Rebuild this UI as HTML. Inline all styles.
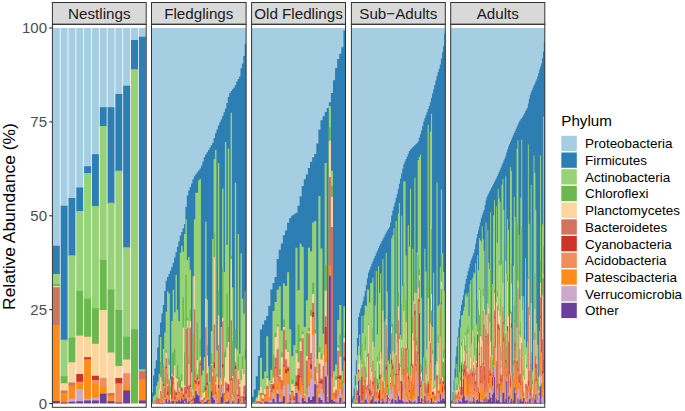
<!DOCTYPE html>
<html><head><meta charset="utf-8"><style>
html,body{margin:0;padding:0;background:#fff;width:685px;height:411px;overflow:hidden}
svg{display:block}
text{font-family:"Liberation Sans",sans-serif}
.st{font-size:15.2px;fill:#1A1A1A}
.tk{font-size:15.0px;fill:#4D4D4D}
.ax{font-size:17.4px;fill:#000}
.lt{font-size:15.2px;fill:#000}
.lg{font-size:13.45px;fill:#000}
</style></head><body>
<svg width="685" height="411" viewBox="0 0 685 411" >
<rect x="52.40" y="2.5" width="93.80" height="21.80" fill="#D9D9D9" stroke="#333333" stroke-width="1"/>
<text x="99.30" y="18.6" text-anchor="middle" class="st">Nestlings</text>
<path d="M52.79 28.00V246.82H59.83V28.00ZM60.61 28.00V206.64H67.64V28.00ZM68.42 28.00V199.12H75.46V28.00ZM76.24 28.00V188.61H83.28V28.00ZM84.06 28.00V167.20H91.09V28.00ZM91.87 28.00V155.18H98.91V28.00ZM99.69 28.00V108.24H106.73V28.00ZM107.51 28.00V108.24H114.54V28.00ZM115.32 28.00V95.10H122.36V28.00ZM123.14 28.00V86.83H130.18V28.00ZM130.96 28.00V41.02H137.99V28.00ZM138.77 28.00V37.64H145.81V28.00Z" fill="#A6CEE3"/>
<path d="M52.79 245.82V274.99H59.83V245.82ZM60.61 205.64V340.71H67.64V205.64ZM68.42 198.12V256.21H75.46V198.12ZM76.24 187.61V211.89H83.28V187.61ZM84.06 166.20V173.96H91.09V166.20ZM91.87 154.18V207.01H98.91V154.18ZM99.69 107.24V127.02H106.73V107.24ZM107.51 107.24V203.63H114.54V107.24ZM115.32 94.10V171.71H122.36V94.10ZM123.14 85.83V248.32H130.18V85.83ZM130.96 40.02V70.31H137.99V40.02ZM138.77 36.64V370.37H145.81V36.64Z" fill="#2D7FB3"/>
<path d="M52.79 273.99V285.13H59.83V273.99ZM60.61 339.71V377.13H67.64V339.71ZM68.42 255.21V338.83H75.46V255.21ZM76.24 210.89V291.88H83.28V210.89ZM84.06 172.96V299.77H91.09V172.96ZM91.87 206.01V309.16H98.91V206.01ZM99.69 126.02V261.09H106.73V126.02ZM107.51 202.63V290.38H114.54V202.63ZM115.32 170.71V311.04H122.36V170.71ZM123.14 247.32V337.70H130.18V247.32ZM130.96 69.31V330.19H137.99V69.31ZM138.77 369.37V372.25H145.81V369.37Z" fill="#98D277"/>
<path d="M52.79 284.13V287.00H59.83V284.13ZM60.61 376.13V384.27H67.64V376.13ZM68.42 337.83V363.24H75.46V337.83ZM76.24 290.88V336.58H83.28V290.88ZM84.06 298.77V337.70H91.09V298.77ZM91.87 308.16V344.84H98.91V308.16ZM99.69 260.09V311.04H106.73V260.09ZM107.51 289.38V353.48H114.54V289.38ZM115.32 310.04V367.00H122.36V310.04ZM123.14 336.70V360.61H130.18V336.70ZM130.96 329.19V403.55H137.99V329.19Z" fill="#6AB84E"/>
<path d="M52.79 286.00V288.13H59.83V286.00ZM60.61 383.27V391.41H67.64V383.27ZM68.42 362.24V383.52H75.46V362.24ZM76.24 335.58V374.88H83.28V335.58ZM84.06 336.70V358.36H91.09V336.70ZM91.87 343.84V376.76H98.91V343.84ZM99.69 310.04V379.01H106.73V310.04ZM107.51 352.48V394.03H114.54V352.48ZM115.32 366.00V379.01H122.36V366.00ZM123.14 359.61V374.13H130.18V359.61Z" fill="#FDD59F"/>
<path d="M52.79 287.13V326.06H59.83V287.13ZM60.61 390.41V393.66H67.64V390.41ZM68.42 382.52V386.52H75.46V382.52ZM107.51 393.03V396.66H114.54V393.03ZM138.77 371.25V380.14H145.81V371.25Z" fill="#D4715F"/>
<path d="M76.24 373.88V382.77H83.28V373.88ZM84.06 357.36V360.24H91.09V357.36ZM91.87 375.76V380.89H98.91V375.76ZM115.32 378.01V384.27H122.36V378.01Z" fill="#CB3426"/>
<path d="M76.24 381.77V384.27H83.28V381.77ZM84.06 359.24V361.74H91.09V359.24ZM91.87 379.89V385.02H98.91V379.89ZM99.69 378.01V387.65H106.73V378.01ZM115.32 383.27V403.42H122.36V383.27ZM123.14 373.13V386.52H130.18V373.13Z" fill="#F38D5C"/>
<path d="M52.79 325.06V401.92H59.83V325.06ZM60.61 392.66V403.42H67.64V392.66ZM68.42 385.52V399.67H75.46V385.52ZM76.24 383.27V389.90H83.28V383.27ZM84.06 360.74V399.67H91.09V360.74ZM91.87 384.02V398.54H98.91V384.02ZM99.69 386.65V394.79H106.73V386.65ZM107.51 395.66V402.30H114.54V395.66ZM123.14 385.52V391.41H130.18V385.52ZM138.77 379.14V401.55H145.81V379.14Z" fill="#FF8B1A"/>
<path d="M68.42 398.67V402.86H75.46V398.67ZM76.24 388.90V402.30H83.28V388.90ZM84.06 398.67V401.55H91.09V398.67ZM91.87 397.54V401.55H98.91V397.54Z" fill="#CBA9CC"/>
<path d="M52.79 400.92V403.55H59.83V400.92ZM60.61 402.42V403.55H67.64V402.42ZM68.42 401.86V403.55H75.46V401.86ZM76.24 401.30V403.55H83.28V401.30ZM84.06 400.55V403.55H91.09V400.55ZM91.87 400.55V403.55H98.91V400.55ZM99.69 393.79V403.55H106.73V393.79ZM107.51 401.30V403.55H114.54V401.30ZM115.32 402.42V403.55H122.36V402.42ZM123.14 390.41V403.55H130.18V390.41ZM138.77 400.55V403.55H145.81V400.55Z" fill="#6A3F9A"/>
<rect x="52.40" y="24.30" width="93.80" height="383.00" fill="none" stroke="#333333" stroke-width="1"/>
<rect x="151.50" y="2.5" width="94.60" height="21.80" fill="#D9D9D9" stroke="#333333" stroke-width="1"/>
<text x="198.80" y="18.6" text-anchor="middle" class="st">Fledglings</text>
<path d="M151.50 403.55V28.00H152.91V28.00H154.32V28.00H155.74V28.00H157.15V28.00H158.56V28.00H159.97V28.00H161.38V28.00H162.80V28.00H164.21V28.00H165.62V28.00H167.03V28.00H168.44V28.00H169.86V28.00H171.27V28.00H172.68V28.00H174.09V28.00H175.50V28.00H176.91V28.00H178.33V28.00H179.74V28.00H181.15V28.00H182.56V28.00H183.97V28.00H185.39V28.00H186.80V28.00H188.21V28.00H189.62V28.00H191.03V28.00H192.45V28.00H193.86V28.00H195.27V28.00H196.68V28.00H198.09V28.00H199.51V28.00H200.92V28.00H202.33V28.00H203.74V28.00H205.15V28.00H206.57V28.00H207.98V28.00H209.39V28.00H210.80V28.00H212.21V28.00H213.63V28.00H215.04V28.00H216.45V28.00H217.86V28.00H219.27V28.00H220.69V28.00H222.10V28.00H223.51V28.00H224.92V28.00H226.33V28.00H227.74V28.00H229.16V28.00H230.57V28.00H231.98V28.00H233.39V28.00H234.80V28.00H236.22V28.00H237.63V28.00H239.04V28.00H240.45V28.00H241.86V28.00H243.28V28.00H244.69V28.00H246.10V403.55Z" fill="#A6CEE3"/>
<path d="M151.50 403.55V392.50H152.91V375.51H154.32V368.62H155.74V360.28H157.15V347.40H158.56V334.79H159.97V322.42H161.38V313.43H162.80V304.89H164.21V290.69H165.62V280.73H167.03V276.98H168.44V274.11H169.86V270.54H171.27V266.74H172.68V262.68H174.09V257.62H175.50V252.35H176.91V246.87H178.33V241.23H179.74V235.59H181.15V232.00H182.56V228.18H183.97V223.88H185.39V206.81H186.80V195.48H188.21V190.56H189.62V187.11H191.03V183.46H192.45V179.17H193.86V176.16H195.27V174.24H196.68V172.32H198.09V170.45H199.51V168.58H200.92V165.81H202.33V161.54H203.74V157.26H205.15V154.59H206.57V152.26H207.98V149.93H209.39V147.59H210.80V145.24H212.21V142.70H213.63V137.98H215.04V133.28H216.45V129.44H217.86V125.59H219.27V122.27H220.69V119.50H222.10V116.01H223.51V112.22H224.92V108.43H226.33V102.93H227.74V97.02H229.16V93.16H230.57V91.04H231.98V89.33H233.39V87.70H234.80V84.97H236.22V81.44H237.63V78.91H239.04V76.53H240.45V68.28H241.86V63.40H243.28V56.09H244.69V43.95H246.10V403.55Z" fill="#2D7FB3"/>
<path d="M151.50 403.55V402.45H152.91V396.52H154.32V394.74H155.74V386.08H157.15V381.86H158.56V373.63H159.97V337.07H161.38V381.24H162.80V348.95H164.21V332.41H165.62V311.67H167.03V291.45H168.44V293.44H169.86V379.38H171.27V321.07H172.68V289.78H174.09V312.18H175.50V274.79H176.91V309.80H178.33V321.25H179.74V252.86H181.15V245.82H182.56V251.74H183.97V234.10H185.39V219.48H186.80V259.98H188.21V257.11H189.62V269.84H191.03V372.25H192.45V276.36H193.86V219.57H195.27V192.81H196.68V192.79H198.09V180.43H199.51V179.03H200.92V375.52H202.33V370.39H203.74V357.16H205.15V221.71H206.57V299.64H207.98V366.17H209.39V381.77H210.80V331.32H212.21V239.00H213.63V159.10H215.04V149.89H216.45V350.43H217.86V163.01H219.27V377.99H220.69V327.05H222.10V188.48H223.51V271.96H224.92V142.09H226.33V244.78H227.74V148.46H229.16V381.12H230.57V112.71H231.98V287.49H233.39V381.56H234.80V182.63H236.22V349.87H237.63V234.08H239.04V353.83H240.45V253.33H241.86V298.40H243.28V313.42H244.69V290.88H246.10V403.55Z" fill="#98D277"/>
<path d="M151.50 403.55V403.23H152.91V402.70H154.32V400.05H155.74V397.07H157.15V397.53H158.56V389.06H159.97V361.92H161.38V396.97H162.80V365.33H164.21V377.36H165.62V349.18H167.03V374.08H168.44V358.79H169.86V386.63H171.27V353.32H172.68V351.68H174.09V348.74H175.50V376.17H176.91V365.22H178.33V377.08H179.74V379.88H181.15V374.04H182.56V297.28H183.97V352.60H185.39V274.70H186.80V318.00H188.21V357.59H189.62V309.95H191.03V391.76H192.45V334.24H193.86V274.76H195.27V368.83H196.68V322.28H198.09V369.12H199.51V339.10H200.92V395.76H202.33V390.58H203.74V385.91H205.15V296.94H206.57V344.85H207.98V384.33H209.39V400.90H210.80V352.99H212.21V369.84H213.63V232.43H215.04V375.26H216.45V373.85H217.86V290.62H219.27V396.41H220.69V380.03H222.10V267.98H223.51V352.16H224.92V349.54H226.33V293.49H227.74V326.90H229.16V399.27H230.57V255.84H231.98V340.88H233.39V395.19H234.80V329.20H236.22V388.94H237.63V355.84H239.04V383.02H240.45V369.95H241.86V356.07H243.28V369.90H244.69V349.86H246.10V403.55Z" fill="#6AB84E"/>
<path d="M151.50 403.55V403.28H152.91V402.71H154.32V400.92H155.74V398.46H157.15V397.75H158.56V389.24H159.97V376.92H161.38V398.43H162.80V368.04H164.21V386.33H165.62V352.79H167.03V384.25H168.44V364.83H169.86V394.56H171.27V374.31H172.68V376.23H174.09V365.57H175.50V378.12H176.91V379.13H178.33V387.72H179.74V391.48H181.15V381.28H182.56V327.53H183.97V385.45H185.39V327.84H186.80V320.50H188.21V363.68H189.62V320.88H191.03V397.67H192.45V389.18H193.86V275.46H195.27V379.09H196.68V359.91H198.09V379.00H199.51V356.66H200.92V397.62H202.33V392.81H203.74V391.83H205.15V298.18H206.57V355.46H207.98V398.42H209.39V401.26H210.80V364.12H212.21V372.09H213.63V256.91H215.04V382.83H216.45V376.45H217.86V315.38H219.27V397.55H220.69V380.71H222.10V317.84H223.51V377.43H224.92V357.23H226.33V347.70H227.74V342.09H229.16V400.61H230.57V258.92H231.98V376.02H233.39V397.46H234.80V348.37H236.22V389.34H237.63V370.40H239.04V384.02H240.45V380.06H241.86V369.07H243.28V373.88H244.69V359.32H246.10V403.55Z" fill="#FDD59F"/>
<path d="M151.50 403.55V403.35H152.91V402.74H154.32V401.08H155.74V398.84H157.15V398.11H158.56V398.59H159.97V390.88H161.38V399.92H162.80V368.13H164.21V388.49H165.62V358.39H167.03V385.70H168.44V379.39H169.86V401.44H171.27V375.60H172.68V377.34H174.09V389.80H175.50V392.10H176.91V381.58H178.33V391.61H179.74V392.94H181.15V387.17H182.56V393.78H183.97V386.90H185.39V328.85H186.80V327.72H188.21V385.40H189.62V327.63H191.03V399.22H192.45V395.84H193.86V309.59H195.27V379.87H196.68V374.38H198.09V380.69H199.51V360.43H200.92V399.89H202.33V399.34H203.74V397.71H205.15V327.37H206.57V373.39H207.98V398.90H209.39V401.66H210.80V364.89H212.21V376.57H213.63V324.50H215.04V384.23H216.45V400.21H217.86V344.91H219.27V399.42H220.69V384.53H222.10V321.16H223.51V393.10H224.92V381.73H226.33V383.29H227.74V383.99H229.16V401.18H230.57V320.31H231.98V377.90H233.39V401.01H234.80V362.16H236.22V394.63H237.63V379.03H239.04V386.42H240.45V396.55H241.86V395.94H243.28V385.72H244.69V385.60H246.10V403.55Z" fill="#D4715F"/>
<path d="M151.50 403.55V403.39H152.91V402.83H154.32V401.11H155.74V402.86H157.15V401.95H158.56V399.96H159.97V393.95H161.38V402.70H162.80V384.34H164.21V396.71H165.62V366.76H167.03V391.75H168.44V395.88H169.86V401.80H171.27V376.41H172.68V382.92H174.09V396.95H175.50V393.14H176.91V390.33H178.33V391.89H179.74V393.12H181.15V388.55H182.56V394.84H183.97V398.93H185.39V391.04H186.80V387.26H188.21V396.08H189.62V385.18H191.03V400.54H192.45V398.74H193.86V380.25H195.27V381.27H196.68V377.72H198.09V381.53H199.51V363.78H200.92V401.98H202.33V400.29H203.74V398.16H205.15V387.24H206.57V382.49H207.98V399.93H209.39V402.65H210.80V384.03H212.21V393.30H213.63V362.27H215.04V392.22H216.45V400.82H217.86V384.95H219.27V401.62H220.69V391.20H222.10V364.33H223.51V393.96H224.92V393.44H226.33V388.32H227.74V384.71H229.16V401.48H230.57V378.62H231.98V392.75H233.39V402.38H234.80V366.11H236.22V395.51H237.63V394.85H239.04V402.18H240.45V397.74H241.86V397.22H243.28V392.21H244.69V396.85H246.10V403.55Z" fill="#CB3426"/>
<path d="M151.50 403.55V403.41H152.91V402.89H154.32V401.17H155.74V403.15H157.15V402.04H158.56V400.18H159.97V394.04H161.38V402.70H162.80V385.87H164.21V397.18H165.62V368.29H167.03V394.74H168.44V396.13H169.86V401.81H171.27V399.16H172.68V383.57H174.09V399.59H175.50V395.12H176.91V390.59H178.33V392.41H179.74V393.58H181.15V390.43H182.56V397.14H183.97V401.28H185.39V393.53H186.80V389.36H188.21V396.99H189.62V387.01H191.03V400.92H192.45V400.36H193.86V381.57H195.27V384.06H196.68V379.83H198.09V384.55H199.51V365.02H200.92V402.06H202.33V400.44H203.74V399.34H205.15V390.23H206.57V384.88H207.98V401.50H209.39V402.70H210.80V384.28H212.21V395.31H213.63V367.94H215.04V393.57H216.45V401.04H217.86V388.22H219.27V401.74H220.69V391.36H222.10V367.41H223.51V394.50H224.92V393.49H226.33V390.19H227.74V391.76H229.16V402.14H230.57V379.99H231.98V393.05H233.39V402.70H234.80V369.03H236.22V395.64H237.63V396.34H239.04V402.69H240.45V397.81H241.86V397.28H243.28V392.49H244.69V399.79H246.10V403.55Z" fill="#F38D5C"/>
<path d="M151.50 403.55V403.42H152.91V403.21H154.32V401.27H155.74V403.28H157.15V402.17H158.56V400.67H159.97V399.50H161.38V403.03H162.80V398.59H164.21V400.72H165.62V397.55H167.03V397.81H168.44V397.01H169.86V402.10H171.27V399.57H172.68V389.58H174.09V400.57H175.50V398.89H176.91V398.69H178.33V397.70H179.74V395.05H181.15V393.41H182.56V397.51H183.97V401.59H185.39V395.78H186.80V392.93H188.21V397.26H189.62V399.41H191.03V400.98H192.45V401.42H193.86V382.75H195.27V385.66H196.68V385.11H198.09V390.11H199.51V390.43H200.92V402.12H202.33V400.86H203.74V399.37H205.15V391.51H206.57V389.54H207.98V401.85H209.39V402.80H210.80V385.09H212.21V396.58H213.63V377.39H215.04V394.28H216.45V402.07H217.86V389.41H219.27V401.75H220.69V395.82H222.10V381.64H223.51V395.41H224.92V397.62H226.33V395.82H227.74V397.56H229.16V402.75H230.57V396.39H231.98V394.32H233.39V403.02H234.80V374.67H236.22V401.55H237.63V397.15H239.04V402.94H240.45V401.46H241.86V401.04H243.28V394.30H244.69V401.20H246.10V403.55Z" fill="#FF8B1A"/>
<path d="M151.50 403.55V403.48H152.91V403.43H154.32V401.77H155.74V403.31H157.15V403.42H158.56V402.48H159.97V401.93H161.38V403.16H162.80V400.11H164.21V402.81H165.62V398.27H167.03V399.71H168.44V398.78H169.86V403.13H171.27V400.62H172.68V399.44H174.09V402.16H175.50V401.51H176.91V401.09H178.33V399.28H179.74V399.42H181.15V397.88H182.56V399.94H183.97V401.79H185.39V398.20H186.80V396.87H188.21V400.04H189.62V403.04H191.03V402.32H192.45V402.76H193.86V396.76H195.27V389.10H196.68V386.44H198.09V394.47H199.51V395.79H200.92V403.21H202.33V403.10H203.74V400.46H205.15V399.42H206.57V399.41H207.98V403.02H209.39V403.05H210.80V391.23H212.21V397.39H213.63V395.50H215.04V399.00H216.45V402.73H217.86V402.50H219.27V402.67H220.69V396.81H222.10V385.65H223.51V402.42H224.92V401.45H226.33V398.99H227.74V400.34H229.16V403.12H230.57V400.80H231.98V394.98H233.39V403.19H234.80V401.68H236.22V402.55H237.63V398.07H239.04V402.96H240.45V402.85H241.86V401.53H243.28V395.97H244.69V402.82H246.10V403.55Z" fill="#CBA9CC"/>
<path d="M151.50 403.55V403.48H152.91V403.50H154.32V403.44H155.74V403.34H157.15V403.45H158.56V402.53H159.97V403.09H161.38V403.35H162.80V402.94H164.21V403.43H165.62V398.90H167.03V402.46H168.44V399.53H169.86V403.16H171.27V401.22H172.68V400.64H174.09V403.50H175.50V401.62H176.91V401.81H178.33V399.75H179.74V401.40H181.15V398.30H182.56V400.14H183.97V403.01H185.39V398.22H186.80V402.69H188.21V400.68H189.62V403.42H191.03V403.15H192.45V403.12H193.86V397.83H195.27V390.70H196.68V394.66H198.09V395.41H199.51V401.48H200.92V403.30H202.33V403.25H203.74V402.04H205.15V402.05H206.57V400.18H207.98V403.09H209.39V403.42H210.80V391.35H212.21V397.39H213.63V399.74H215.04V403.49H216.45V403.31H217.86V402.73H219.27V403.07H220.69V396.93H222.10V393.47H223.51V403.46H224.92V401.95H226.33V401.88H227.74V400.53H229.16V403.17H230.57V403.37H231.98V401.23H233.39V403.46H234.80V403.34H236.22V402.81H237.63V398.52H239.04V403.25H240.45V402.98H241.86V402.97H243.28V396.38H244.69V403.09H246.10V403.55Z" fill="#6A3F9A"/>
<rect x="151.50" y="24.30" width="94.60" height="383.00" fill="none" stroke="#333333" stroke-width="1"/>
<rect x="251.60" y="2.5" width="93.90" height="21.80" fill="#D9D9D9" stroke="#333333" stroke-width="1"/>
<text x="298.55" y="18.6" text-anchor="middle" class="st">Old Fledlings</text>
<path d="M251.60 403.55V28.00H253.69V28.00H255.77V28.00H257.86V28.00H259.95V28.00H262.03V28.00H264.12V28.00H266.21V28.00H268.29V28.00H270.38V28.00H272.47V28.00H274.55V28.00H276.64V28.00H278.73V28.00H280.81V28.00H282.90V28.00H284.99V28.00H287.07V28.00H289.16V28.00H291.25V28.00H293.33V28.00H295.42V28.00H297.51V28.00H299.59V28.00H301.68V28.00H303.77V28.00H305.85V28.00H307.94V28.00H310.03V28.00H312.11V28.00H314.20V28.00H316.29V28.00H318.37V28.00H320.46V28.00H322.55V28.00H324.63V28.00H326.72V28.00H328.81V28.00H330.89V28.00H332.98V28.00H335.07V28.00H337.15V28.00H339.24V28.00H341.33V28.00H343.41V28.00H345.50V403.55Z" fill="#A6CEE3"/>
<path d="M251.60 403.55V396.79H253.69V389.53H255.77V376.36H257.86V355.89H259.95V329.43H262.03V324.41H264.12V320.24H266.21V315.98H268.29V305.80H270.38V289.40H272.47V283.09H274.55V276.94H276.64V259.05H278.73V249.73H280.81V243.55H282.90V235.13H284.99V230.56H287.07V222.80H289.16V217.91H291.25V215.38H293.33V214.36H295.42V212.80H297.51V205.71H299.59V196.32H301.68V185.95H303.77V179.29H305.85V174.48H307.94V168.09H310.03V161.73H312.11V157.17H314.20V153.88H316.29V143.38H318.37V129.76H320.46V120.17H322.55V116.27H324.63V112.05H326.72V107.94H328.81V102.27H330.89V92.94H332.98V80.28H335.07V68.09H337.15V59.06H339.24V53.63H341.33V47.29H343.41V30.47H345.50V403.55Z" fill="#2D7FB3"/>
<path d="M251.60 403.55V402.87H253.69V402.15H255.77V397.24H257.86V390.23H259.95V357.64H262.03V378.73H264.12V371.43H266.21V336.30H268.29V380.31H270.38V369.72H272.47V310.95H274.55V301.96H276.64V289.85H278.73V286.34H280.81V330.46H282.90V283.48H284.99V286.06H287.07V272.33H289.16V329.28H291.25V356.11H293.33V345.19H295.42V247.78H297.51V290.23H299.59V243.86H301.68V246.96H303.77V326.96H305.85V300.15H307.94V247.71H310.03V251.57H312.11V222.41H314.20V221.05H316.29V358.77H318.37V196.09H320.46V248.58H322.55V333.79H324.63V162.99H326.72V375.62H328.81V106.02H330.89V170.71H332.98V371.22H335.07V364.55H337.15V319.90H339.24V305.00H341.33V370.98H343.41V306.25H345.50V403.55Z" fill="#98D277"/>
<path d="M251.60 403.55V403.08H253.69V402.67H255.77V399.14H257.86V394.39H259.95V386.33H262.03V393.25H264.12V387.95H266.21V375.71H268.29V388.82H270.38V381.30H272.47V354.87H274.55V332.44H276.64V323.96H278.73V369.02H280.81V352.39H282.90V319.50H284.99V340.01H287.07V350.44H289.16V391.84H291.25V379.46H293.33V385.59H295.42V350.05H297.51V324.23H299.59V338.35H301.68V331.62H303.77V392.83H305.85V333.31H307.94V328.09H310.03V310.01H312.11V282.69H314.20V329.39H316.29V372.21H318.37V347.37H320.46V353.86H322.55V354.72H324.63V264.45H326.72V394.18H328.81V127.15H330.89V185.73H332.98V386.61H335.07V376.25H337.15V344.99H339.24V334.57H341.33V380.75H343.41V335.44H345.50V403.55Z" fill="#6AB84E"/>
<path d="M251.60 403.55V403.33H253.69V402.69H255.77V399.21H257.86V395.09H259.95V386.45H262.03V395.04H264.12V388.50H266.21V377.98H268.29V388.83H270.38V383.01H272.47V377.58H274.55V337.08H276.64V326.46H278.73V374.94H280.81V357.02H282.90V326.88H284.99V349.43H287.07V351.69H289.16V392.30H291.25V383.83H293.33V385.91H295.42V353.34H297.51V362.29H299.59V341.45H301.68V334.22H303.77V393.62H305.85V356.17H307.94V331.46H310.03V316.01H312.11V294.12H314.20V333.58H316.29V372.63H318.37V352.23H320.46V359.46H322.55V354.80H324.63V290.42H326.72V394.41H328.81V140.67H330.89V197.00H332.98V386.83H335.07V379.84H337.15V347.57H339.24V356.69H341.33V386.56H343.41V337.82H345.50V403.55Z" fill="#FDD59F"/>
<path d="M251.60 403.55V403.34H253.69V402.80H255.77V400.64H257.86V401.06H259.95V393.02H262.03V398.46H264.12V394.31H266.21V385.65H268.29V397.69H270.38V384.00H272.47V383.66H274.55V357.49H276.64V349.13H278.73V376.39H280.81V380.01H282.90V329.82H284.99V359.17H287.07V366.47H289.16V394.26H291.25V390.77H293.33V396.04H295.42V375.49H297.51V368.42H299.59V350.88H301.68V338.34H303.77V395.51H305.85V360.58H307.94V333.28H310.03V353.04H312.11V302.98H314.20V366.91H316.29V385.34H318.37V363.38H320.46V378.60H322.55V365.85H324.63V316.29H326.72V396.81H328.81V177.09H330.89V227.04H332.98V392.73H335.07V389.64H337.15V350.87H339.24V375.07H341.33V386.80H343.41V342.45H345.50V403.55Z" fill="#D4715F"/>
<path d="M251.60 403.55V403.37H253.69V403.03H255.77V402.71H257.86V401.89H259.95V394.16H262.03V401.02H264.12V395.45H266.21V387.76H268.29V398.37H270.38V390.79H272.47V385.35H274.55V367.61H276.64V376.11H278.73V381.18H280.81V388.12H282.90V365.37H284.99V369.61H287.07V368.49H289.16V399.15H291.25V391.00H293.33V398.23H295.42V381.78H297.51V374.96H299.59V376.38H301.68V384.61H303.77V395.89H305.85V387.35H307.94V358.22H310.03V364.17H312.11V312.28H314.20V379.53H316.29V387.14H318.37V381.79H320.46V380.26H322.55V391.64H324.63V326.93H326.72V397.39H328.81V266.10H330.89V377.26H332.98V395.05H335.07V397.81H337.15V376.69H339.24V375.78H341.33V393.75H343.41V357.35H345.50V403.55Z" fill="#CB3426"/>
<path d="M251.60 403.55V403.37H253.69V403.06H255.77V402.78H257.86V402.60H259.95V394.20H262.03V401.03H264.12V395.86H266.21V388.18H268.29V398.44H270.38V391.59H272.47V389.05H274.55V368.37H276.64V376.50H278.73V381.30H280.81V388.56H282.90V366.59H284.99V373.36H287.07V371.23H289.16V400.43H291.25V391.78H293.33V400.07H295.42V385.89H297.51V390.44H299.59V377.33H301.68V384.77H303.77V395.98H305.85V387.56H307.94V359.20H310.03V368.76H312.11V317.00H314.20V380.26H316.29V387.49H318.37V382.86H320.46V383.56H322.55V392.59H324.63V344.16H326.72V397.53H328.81V266.10H330.89V377.26H332.98V395.27H335.07V397.96H337.15V378.49H339.24V379.36H341.33V393.77H343.41V360.68H345.50V403.55Z" fill="#F38D5C"/>
<path d="M251.60 403.55V403.38H253.69V403.14H255.77V403.10H257.86V403.17H259.95V399.06H262.03V402.53H264.12V396.67H266.21V392.60H268.29V401.22H270.38V398.99H272.47V393.21H274.55V384.49H276.64V379.75H278.73V393.37H280.81V398.32H282.90V367.97H284.99V400.76H287.07V371.30H289.16V401.32H291.25V398.49H293.33V401.23H295.42V386.68H297.51V401.13H299.59V380.67H301.68V393.03H303.77V397.22H305.85V391.84H307.94V371.78H310.03V372.74H312.11V330.33H314.20V382.92H316.29V391.03H318.37V389.19H320.46V389.05H322.55V395.27H324.63V347.08H326.72V399.64H328.81V266.10H330.89V388.53H332.98V396.63H335.07V401.28H337.15V387.24H339.24V380.45H341.33V399.68H343.41V382.14H345.50V403.55Z" fill="#FF8B1A"/>
<path d="M251.60 403.55V403.48H253.69V403.40H255.77V403.21H257.86V403.25H259.95V400.76H262.03V402.81H264.12V401.67H266.21V401.49H268.29V401.23H270.38V400.04H272.47V393.33H274.55V397.62H276.64V389.92H278.73V397.98H280.81V400.73H282.90V385.89H284.99V402.58H287.07V384.32H289.16V401.55H291.25V400.53H293.33V401.38H295.42V389.03H297.51V401.82H299.59V393.41H301.68V398.11H303.77V400.44H305.85V394.91H307.94V386.56H310.03V378.95H312.11V335.29H314.20V383.45H316.29V402.03H318.37V393.83H320.46V389.37H322.55V396.59H324.63V362.01H326.72V400.63H328.81V275.86H330.89V399.79H332.98V400.22H335.07V402.31H337.15V396.49H339.24V388.92H341.33V401.74H343.41V383.08H345.50V403.55Z" fill="#CBA9CC"/>
<path d="M251.60 403.55V403.55H253.69V403.51H255.77V403.42H257.86V403.38H259.95V402.34H262.03V403.52H264.12V401.73H266.21V401.68H268.29V402.42H270.38V402.47H272.47V398.70H274.55V402.61H276.64V393.86H278.73V402.09H280.81V401.54H282.90V396.26H284.99V403.38H287.07V402.86H289.16V401.82H291.25V403.31H293.33V402.49H295.42V392.89H297.51V402.36H299.59V403.20H301.68V398.12H303.77V400.96H305.85V402.46H307.94V397.18H310.03V399.95H312.11V396.57H314.20V384.27H316.29V402.51H318.37V397.44H320.46V400.11H322.55V402.78H324.63V376.57H326.72V401.69H328.81V275.86H330.89V399.79H332.98V401.35H335.07V402.58H337.15V402.73H339.24V397.73H341.33V402.79H343.41V401.83H345.50V403.55Z" fill="#6A3F9A"/>
<rect x="251.60" y="24.30" width="93.90" height="383.00" fill="none" stroke="#333333" stroke-width="1"/>
<rect x="351.40" y="2.5" width="93.90" height="21.80" fill="#D9D9D9" stroke="#333333" stroke-width="1"/>
<text x="398.35" y="18.6" text-anchor="middle" class="st">Sub−Adults</text>
<path d="M351.40 403.55V28.00H352.50V28.00H353.61V28.00H354.71V28.00H355.82V28.00H356.92V28.00H358.03V28.00H359.13V28.00H360.24V28.00H361.34V28.00H362.45V28.00H363.55V28.00H364.66V28.00H365.76V28.00H366.87V28.00H367.97V28.00H369.08V28.00H370.18V28.00H371.28V28.00H372.39V28.00H373.49V28.00H374.60V28.00H375.70V28.00H376.81V28.00H377.91V28.00H379.02V28.00H380.12V28.00H381.23V28.00H382.33V28.00H383.44V28.00H384.54V28.00H385.65V28.00H386.75V28.00H387.86V28.00H388.96V28.00H390.06V28.00H391.17V28.00H392.27V28.00H393.38V28.00H394.48V28.00H395.59V28.00H396.69V28.00H397.80V28.00H398.90V28.00H400.01V28.00H401.11V28.00H402.22V28.00H403.32V28.00H404.43V28.00H405.53V28.00H406.64V28.00H407.74V28.00H408.84V28.00H409.95V28.00H411.05V28.00H412.16V28.00H413.26V28.00H414.37V28.00H415.47V28.00H416.58V28.00H417.68V28.00H418.79V28.00H419.89V28.00H421.00V28.00H422.10V28.00H423.21V28.00H424.31V28.00H425.42V28.00H426.52V28.00H427.62V28.00H428.73V28.00H429.83V28.00H430.94V28.00H432.04V28.00H433.15V28.00H434.25V28.00H435.36V28.00H436.46V28.00H437.57V28.00H438.67V28.00H439.78V28.00H440.88V28.00H441.99V28.00H443.09V28.00H444.20V28.00H445.30V403.55Z" fill="#A6CEE3"/>
<path d="M351.40 403.55V398.92H352.50V396.29H353.61V388.44H354.71V375.54H355.82V360.31H356.92V337.94H358.03V316.89H359.13V312.66H360.24V308.42H361.34V304.90H362.45V301.45H363.55V296.62H364.66V291.01H365.76V284.88H366.87V278.16H367.97V272.55H369.08V269.66H370.18V266.76H371.28V263.87H372.39V261.21H373.49V258.57H374.60V255.93H375.70V253.36H376.81V250.83H377.91V248.29H379.02V245.85H380.12V243.61H381.23V241.37H382.33V239.13H383.44V236.95H384.54V234.77H385.65V232.60H386.75V230.66H387.86V228.82H388.96V226.98H390.06V222.42H391.17V215.44H392.27V210.40H393.38V206.49H394.48V202.55H395.59V198.09H396.69V193.63H397.80V188.67H398.90V183.63H400.01V178.59H401.11V173.48H402.22V168.38H403.32V164.14H404.43V161.60H405.53V159.07H406.64V156.53H407.74V153.72H408.84V150.92H409.95V149.52H411.05V148.45H412.16V147.37H413.26V146.27H414.37V145.15H415.47V144.02H416.58V142.89H417.68V141.46H418.79V137.81H419.89V134.17H421.00V130.53H422.10V126.25H423.21V121.79H424.31V118.22H425.42V115.25H426.52V112.28H427.62V109.12H428.73V105.88H429.83V102.55H430.94V98.04H432.04V93.53H433.15V89.22H434.25V84.93H435.36V80.53H436.46V76.07H437.57V72.12H438.67V68.76H439.78V64.59H440.88V58.52H441.99V52.33H443.09V46.03H444.20V33.47H445.30V403.55Z" fill="#2D7FB3"/>
<path d="M351.40 403.55V403.09H352.50V402.82H353.61V398.96H354.71V385.70H355.82V374.19H356.92V355.37H358.03V345.97H359.13V334.50H360.24V359.92H361.34V316.09H362.45V332.99H363.55V315.13H364.66V305.52H365.76V305.97H366.87V289.39H367.97V289.65H369.08V302.70H370.18V283.36H371.28V282.81H372.39V277.58H373.49V346.87H374.60V305.59H375.70V271.01H376.81V334.39H377.91V266.27H379.02V292.73H380.12V273.23H381.23V358.40H382.33V259.20H383.44V321.74H384.54V377.01H385.65V252.65H386.75V291.50H387.86V360.23H388.96V363.75H390.06V353.69H391.17V238.16H392.27V235.62H393.38V228.29H394.48V352.94H395.59V220.96H396.69V342.97H397.80V213.41H398.90V203.07H400.01V334.76H401.11V215.79H402.22V285.69H403.32V181.43H404.43V181.30H405.53V255.60H406.64V349.54H407.74V225.05H408.84V246.64H409.95V188.86H411.05V366.11H412.16V248.86H413.26V301.06H414.37V177.81H415.47V292.90H416.58V252.40H417.68V160.02H418.79V156.91H419.89V154.49H421.00V297.79H422.10V380.96H423.21V357.18H424.31V248.67H425.42V271.58H426.52V349.21H427.62V124.68H428.73V341.17H429.83V131.80H430.94V113.76H432.04V326.97H433.15V272.82H434.25V380.60H435.36V364.61H436.46V182.46H437.57V306.26H438.67V304.58H439.78V266.72H440.88V189.44H441.99V253.33H443.09V272.11H444.20V290.88H445.30V403.55Z" fill="#98D277"/>
<path d="M351.40 403.55V403.31H352.50V403.10H353.61V401.52H354.71V399.15H355.82V387.71H356.92V383.52H358.03V363.25H359.13V355.21H360.24V395.09H361.34V344.04H362.45V382.29H363.55V360.94H364.66V336.60H365.76V373.57H366.87V353.82H367.97V323.82H369.08V383.98H370.18V366.14H371.28V369.21H372.39V328.46H373.49V377.37H374.60V370.66H375.70V378.05H376.81V356.63H377.91V382.83H379.02V351.63H380.12V350.60H381.23V371.94H382.33V302.51H383.44V370.39H384.54V392.36H385.65V317.42H386.75V347.35H387.86V387.68H388.96V396.20H390.06V373.88H391.17V323.80H392.27V323.65H393.38V369.48H394.48V384.62H395.59V315.46H396.69V383.03H397.80V292.47H398.90V333.16H400.01V365.39H401.11V303.87H402.22V368.64H403.32V282.14H404.43V368.56H405.53V299.99H406.64V367.31H407.74V349.47H408.84V378.74H409.95V363.87H411.05V381.24H412.16V317.27H413.26V337.15H414.37V277.18H415.47V337.21H416.58V340.73H417.68V255.19H418.79V269.52H419.89V363.39H421.00V365.40H422.10V397.39H423.21V397.36H424.31V357.34H425.42V360.54H426.52V386.62H427.62V281.36H428.73V385.31H429.83V298.49H430.94V228.78H432.04V349.95H433.15V387.06H434.25V387.48H435.36V385.07H436.46V360.36H437.57V335.45H438.67V374.51H439.78V307.77H440.88V254.05H441.99V360.65H443.09V349.41H444.20V375.54H445.30V403.55Z" fill="#6AB84E"/>
<path d="M351.40 403.55V403.33H352.50V403.20H353.61V402.87H354.71V400.25H355.82V389.72H356.92V384.51H358.03V363.76H359.13V355.47H360.24V396.86H361.34V364.27H362.45V385.13H363.55V381.98H364.66V350.51H365.76V377.20H366.87V357.04H367.97V325.06H369.08V387.01H370.18V366.93H371.28V371.78H372.39V341.63H373.49V390.02H374.60V375.31H375.70V384.65H376.81V361.33H377.91V389.20H379.02V361.33H380.12V351.53H381.23V377.39H382.33V310.38H383.44V381.22H384.54V393.54H385.65V318.89H386.75V363.15H387.86V395.44H388.96V397.09H390.06V376.92H391.17V326.69H392.27V351.21H393.38V376.06H394.48V392.89H395.59V333.62H396.69V383.06H397.80V306.24H398.90V339.09H400.01V366.86H401.11V339.71H402.22V374.57H403.32V310.78H404.43V375.26H405.53V321.97H406.64V373.47H407.74V372.81H408.84V389.31H409.95V376.14H411.05V381.76H412.16V333.30H413.26V341.09H414.37V292.68H415.47V344.94H416.58V362.07H417.68V287.79H418.79V275.21H419.89V375.30H421.00V372.13H422.10V398.74H423.21V397.48H424.31V366.03H425.42V373.88H426.52V387.52H427.62V298.10H428.73V390.05H429.83V323.42H430.94V293.91H432.04V354.33H433.15V389.26H434.25V387.91H435.36V386.28H436.46V361.13H437.57V342.94H438.67V384.51H439.78V336.57H440.88V281.69H441.99V376.93H443.09V358.04H444.20V383.74H445.30V403.55Z" fill="#FDD59F"/>
<path d="M351.40 403.55V403.45H352.50V403.36H353.61V403.14H354.71V401.20H355.82V389.84H356.92V390.14H358.03V369.32H359.13V379.43H360.24V400.44H361.34V367.32H362.45V385.49H363.55V384.82H364.66V366.65H365.76V386.39H366.87V385.10H367.97V353.25H369.08V388.00H370.18V379.57H371.28V390.39H372.39V360.55H373.49V391.63H374.60V375.33H375.70V391.87H376.81V378.76H377.91V392.57H379.02V363.69H380.12V374.79H381.23V399.07H382.33V381.51H383.44V387.96H384.54V397.48H385.65V325.62H386.75V363.74H387.86V397.17H388.96V398.39H390.06V382.98H391.17V333.37H392.27V363.75H393.38V384.47H394.48V397.56H395.59V355.13H396.69V390.73H397.80V320.45H398.90V363.28H400.01V381.31H401.11V347.87H402.22V384.56H403.32V347.84H404.43V381.77H405.53V348.26H406.64V395.33H407.74V373.13H408.84V389.86H409.95V377.20H411.05V381.83H412.16V363.38H413.26V384.44H414.37V304.05H415.47V351.22H416.58V384.13H417.68V298.67H418.79V280.46H419.89V376.31H421.00V380.88H422.10V398.75H423.21V399.25H424.31V366.30H425.42V384.44H426.52V388.35H427.62V381.11H428.73V394.55H429.83V343.20H430.94V310.76H432.04V391.99H433.15V391.33H434.25V395.65H435.36V395.49H436.46V374.71H437.57V391.08H438.67V389.90H439.78V378.76H440.88V288.67H441.99V380.96H443.09V362.23H444.20V384.27H445.30V403.55Z" fill="#D4715F"/>
<path d="M351.40 403.55V403.46H352.50V403.40H353.61V403.18H354.71V402.84H355.82V399.19H356.92V392.96H358.03V370.03H359.13V380.42H360.24V401.03H361.34V376.74H362.45V392.19H363.55V400.81H364.66V380.43H365.76V389.98H366.87V388.05H367.97V389.57H369.08V390.46H370.18V394.15H371.28V393.12H372.39V381.45H373.49V399.79H374.60V377.87H375.70V393.87H376.81V385.01H377.91V395.62H379.02V375.11H380.12V377.80H381.23V399.40H382.33V381.53H383.44V393.47H384.54V397.97H385.65V366.70H386.75V384.68H387.86V398.35H388.96V399.50H390.06V383.30H391.17V359.87H392.27V365.38H393.38V384.88H394.48V397.74H395.59V373.24H396.69V394.68H397.80V373.74H398.90V368.91H400.01V381.99H401.11V355.03H402.22V389.06H403.32V368.94H404.43V387.36H405.53V348.81H406.64V396.81H407.74V375.66H408.84V390.10H409.95V377.38H411.05V398.19H412.16V365.79H413.26V394.20H414.37V310.72H415.47V364.82H416.58V385.45H417.68V352.20H418.79V300.07H419.89V385.32H421.00V385.30H422.10V400.54H423.21V400.43H424.31V383.02H425.42V392.15H426.52V395.29H427.62V383.62H428.73V394.70H429.83V362.00H430.94V323.99H432.04V392.09H433.15V393.00H434.25V400.12H435.36V396.51H436.46V375.67H437.57V391.42H438.67V392.78H439.78V383.33H440.88V302.60H441.99V386.82H443.09V381.84H444.20V386.26H445.30V403.55Z" fill="#CB3426"/>
<path d="M351.40 403.55V403.46H352.50V403.40H353.61V403.29H354.71V402.86H355.82V399.41H356.92V394.92H358.03V371.93H359.13V380.77H360.24V401.15H361.34V400.19H362.45V393.51H363.55V401.43H364.66V381.42H365.76V390.29H366.87V388.10H367.97V390.23H369.08V394.39H370.18V395.69H371.28V393.73H372.39V384.61H373.49V399.90H374.60V378.13H375.70V394.52H376.81V388.67H377.91V398.26H379.02V379.15H380.12V377.82H381.23V400.41H382.33V381.76H383.44V394.08H384.54V398.12H385.65V369.56H386.75V386.75H387.86V398.63H388.96V400.25H390.06V383.59H391.17V363.68H392.27V369.27H393.38V385.57H394.48V398.19H395.59V375.20H396.69V395.37H397.80V374.92H398.90V370.33H400.01V382.74H401.11V355.53H402.22V390.39H403.32V369.62H404.43V388.49H405.53V350.01H406.64V396.87H407.74V379.45H408.84V392.34H409.95V377.52H411.05V398.42H412.16V367.44H413.26V394.96H414.37V315.01H415.47V365.93H416.58V386.41H417.68V353.90H418.79V301.48H419.89V386.98H421.00V385.59H422.10V400.59H423.21V400.69H424.31V383.26H425.42V392.44H426.52V395.47H427.62V392.80H428.73V395.72H429.83V362.59H430.94V324.82H432.04V395.07H433.15V394.33H434.25V400.35H435.36V396.62H436.46V378.28H437.57V392.52H438.67V393.34H439.78V383.74H440.88V304.56H441.99V392.26H443.09V384.03H444.20V389.36H445.30V403.55Z" fill="#F38D5C"/>
<path d="M351.40 403.55V403.52H352.50V403.51H353.61V403.44H354.71V403.20H355.82V400.24H356.92V396.01H358.03V377.46H359.13V384.19H360.24V401.34H361.34V401.35H362.45V399.41H363.55V401.80H364.66V389.54H365.76V391.71H366.87V391.71H367.97V399.72H369.08V394.95H370.18V396.56H371.28V394.65H372.39V387.02H373.49V401.72H374.60V396.40H375.70V394.65H376.81V392.02H377.91V399.65H379.02V381.43H380.12V388.98H381.23V400.46H382.33V385.66H383.44V397.86H384.54V398.46H385.65V381.72H386.75V389.29H387.86V400.19H388.96V400.85H390.06V387.48H391.17V386.22H392.27V369.51H393.38V385.71H394.48V398.80H395.59V397.23H396.69V401.62H397.80V387.59H398.90V378.37H400.01V398.83H401.11V376.53H402.22V391.85H403.32V375.78H404.43V393.16H405.53V369.50H406.64V397.33H407.74V397.86H408.84V395.24H409.95V391.19H411.05V398.54H412.16V374.20H413.26V397.06H414.37V389.58H415.47V369.65H416.58V389.76H417.68V360.48H418.79V311.73H419.89V395.91H421.00V391.91H422.10V401.98H423.21V401.57H424.31V392.80H425.42V398.32H426.52V398.07H427.62V393.30H428.73V400.90H429.83V369.43H430.94V377.89H432.04V395.50H433.15V398.21H434.25V401.64H435.36V397.58H436.46V398.03H437.57V398.18H438.67V393.94H439.78V384.38H440.88V310.40H441.99V393.54H443.09V393.90H444.20V389.90H445.30V403.55Z" fill="#FF8B1A"/>
<path d="M351.40 403.55V403.53H352.50V403.52H353.61V403.47H354.71V403.28H355.82V402.70H356.92V401.02H358.03V379.27H359.13V392.93H360.24V401.58H361.34V402.24H362.45V402.17H363.55V402.41H364.66V398.54H365.76V393.12H366.87V399.64H367.97V402.64H369.08V401.65H370.18V398.20H371.28V395.07H372.39V389.31H373.49V402.36H374.60V398.47H375.70V398.85H376.81V399.16H377.91V400.13H379.02V383.90H380.12V400.41H381.23V401.84H382.33V398.13H383.44V399.38H384.54V401.67H385.65V396.68H386.75V393.41H387.86V400.72H388.96V402.24H390.06V389.59H391.17V393.68H392.27V387.18H393.38V397.94H394.48V399.02H395.59V398.07H396.69V401.69H397.80V390.71H398.90V391.28H400.01V399.73H401.11V376.56H402.22V398.38H403.32V379.20H404.43V401.95H405.53V395.41H406.64V399.91H407.74V401.86H408.84V399.51H409.95V399.54H411.05V401.57H412.16V400.66H413.26V398.72H414.37V398.59H415.47V371.43H416.58V397.99H417.68V380.29H418.79V311.87H419.89V396.91H421.00V395.85H422.10V402.85H423.21V402.81H424.31V393.56H425.42V401.08H426.52V403.11H427.62V398.64H428.73V402.01H429.83V400.43H430.94V380.84H432.04V401.95H433.15V399.25H434.25V402.80H435.36V400.16H436.46V401.63H437.57V398.97H438.67V398.15H439.78V394.08H440.88V399.27H441.99V397.86H443.09V394.96H444.20V391.49H445.30V403.55Z" fill="#CBA9CC"/>
<path d="M351.40 403.55V403.55H352.50V403.54H353.61V403.51H354.71V403.29H355.82V403.18H356.92V402.69H358.03V380.78H359.13V395.80H360.24V402.44H361.34V402.62H362.45V402.56H363.55V402.48H364.66V399.72H365.76V399.57H366.87V402.41H367.97V403.39H369.08V402.56H370.18V400.49H371.28V399.17H372.39V395.96H373.49V402.43H374.60V401.55H375.70V401.36H376.81V402.73H377.91V400.74H379.02V389.99H380.12V403.09H381.23V401.93H382.33V398.73H383.44V401.86H384.54V403.50H385.65V401.74H386.75V394.90H387.86V403.33H388.96V403.48H390.06V402.81H391.17V399.70H392.27V398.45H393.38V403.42H394.48V399.68H395.59V400.42H396.69V401.96H397.80V395.94H398.90V399.66H400.01V400.18H401.11V381.24H402.22V400.94H403.32V402.17H404.43V403.35H405.53V401.69H406.64V402.06H407.74V403.35H408.84V399.90H409.95V401.40H411.05V401.59H412.16V402.76H413.26V402.10H414.37V400.66H415.47V403.12H416.58V402.46H417.68V396.44H418.79V312.78H419.89V402.06H421.00V398.20H422.10V403.12H423.21V403.10H424.31V396.10H425.42V401.26H426.52V403.54H427.62V400.42H428.73V403.35H429.83V402.24H430.94V398.06H432.04V402.43H433.15V401.95H434.25V403.54H435.36V402.22H436.46V403.23H437.57V400.91H438.67V402.02H439.78V394.30H440.88V400.45H441.99V398.79H443.09V398.56H444.20V400.73H445.30V403.55Z" fill="#6A3F9A"/>
<rect x="351.40" y="24.30" width="93.90" height="383.00" fill="none" stroke="#333333" stroke-width="1"/>
<rect x="450.70" y="2.5" width="94.10" height="21.80" fill="#D9D9D9" stroke="#333333" stroke-width="1"/>
<text x="497.75" y="18.6" text-anchor="middle" class="st">Adults</text>
<path d="M450.70 403.55V28.00H451.64V28.00H452.58V28.00H453.52V28.00H454.46V28.00H455.40V28.00H456.35V28.00H457.29V28.00H458.23V28.00H459.17V28.00H460.11V28.00H461.05V28.00H461.99V28.00H462.93V28.00H463.87V28.00H464.81V28.00H465.76V28.00H466.70V28.00H467.64V28.00H468.58V28.00H469.52V28.00H470.46V28.00H471.40V28.00H472.34V28.00H473.28V28.00H474.22V28.00H475.17V28.00H476.11V28.00H477.05V28.00H477.99V28.00H478.93V28.00H479.87V28.00H480.81V28.00H481.75V28.00H482.69V28.00H483.63V28.00H484.58V28.00H485.52V28.00H486.46V28.00H487.40V28.00H488.34V28.00H489.28V28.00H490.22V28.00H491.16V28.00H492.10V28.00H493.04V28.00H493.99V28.00H494.93V28.00H495.87V28.00H496.81V28.00H497.75V28.00H498.69V28.00H499.63V28.00H500.57V28.00H501.51V28.00H502.45V28.00H503.40V28.00H504.34V28.00H505.28V28.00H506.22V28.00H507.16V28.00H508.10V28.00H509.04V28.00H509.98V28.00H510.92V28.00H511.86V28.00H512.81V28.00H513.75V28.00H514.69V28.00H515.63V28.00H516.57V28.00H517.51V28.00H518.45V28.00H519.39V28.00H520.33V28.00H521.27V28.00H522.22V28.00H523.16V28.00H524.10V28.00H525.04V28.00H525.98V28.00H526.92V28.00H527.86V28.00H528.80V28.00H529.74V28.00H530.68V28.00H531.63V28.00H532.57V28.00H533.51V28.00H534.45V28.00H535.39V28.00H536.33V28.00H537.27V28.00H538.21V28.00H539.15V28.00H540.10V28.00H541.04V28.00H541.98V28.00H542.92V28.00H543.86V28.00H544.80V403.55Z" fill="#A6CEE3"/>
<path d="M450.70 403.55V401.67H451.64V400.41H452.58V392.01H453.52V380.33H454.46V368.43H455.40V356.54H456.35V346.42H457.29V336.85H458.23V327.54H459.17V319.19H460.11V310.84H461.05V304.84H461.99V300.06H462.93V295.28H463.87V289.55H464.81V283.83H465.76V278.98H466.70V275.17H467.64V271.37H468.58V267.67H469.52V263.98H470.46V260.58H471.40V258.04H472.34V255.51H473.28V252.97H474.22V249.19H475.17V243.69H476.11V238.20H477.05V234.00H477.99V230.19H478.93V226.35H479.87V222.35H480.81V218.35H481.75V215.25H482.69V212.62H483.63V209.97H484.58V205.23H485.52V200.48H486.46V197.03H487.40V195.12H488.34V193.21H489.28V191.31H490.22V189.43H491.16V187.57H492.10V185.72H493.04V183.86H493.99V181.97H494.93V180.06H495.87V178.15H496.81V176.24H497.75V174.09H498.69V171.91H499.63V169.72H500.57V167.53H501.51V165.21H502.45V162.88H503.40V160.55H504.34V158.22H505.28V155.67H506.22V152.52H507.16V149.37H508.10V146.39H509.04V144.14H509.98V141.89H510.92V139.65H511.86V137.43H512.81V135.27H513.75V133.11H514.69V130.94H515.63V128.79H516.57V126.65H517.51V124.50H518.45V122.36H519.39V120.69H520.33V119.34H521.27V118.00H522.22V116.65H523.16V114.99H524.10V113.17H525.04V111.35H525.98V109.53H526.92V107.72H527.86V103.39H528.80V99.04H529.74V94.70H530.68V92.28H531.63V90.06H532.57V87.84H533.51V85.62H534.45V83.47H535.39V81.33H536.33V79.18H537.27V76.22H538.21V72.89H539.15V69.58H540.10V66.38H541.04V63.18H541.98V58.29H542.92V51.54H543.86V42.52H544.80V403.55Z" fill="#2D7FB3"/>
<path d="M450.70 403.55V403.36H451.64V403.24H452.58V402.40H453.52V389.95H454.46V378.78H455.40V377.33H456.35V363.85H457.29V377.51H458.23V337.31H459.17V372.52H460.11V327.61H461.05V315.48H461.99V315.05H462.93V310.86H463.87V306.74H464.81V295.33H465.76V293.59H466.70V296.60H467.64V292.56H468.58V316.02H469.52V284.16H470.46V279.93H471.40V343.50H472.34V277.82H473.28V272.52H474.22V273.48H475.17V263.15H476.11V324.48H477.05V255.17H477.99V270.08H478.93V237.95H479.87V240.36H480.81V241.60H481.75V226.38H482.69V239.16H483.63V250.71H484.58V334.55H485.52V222.53H486.46V314.19H487.40V230.06H488.34V262.83H489.28V268.89H490.22V212.30H491.16V355.15H492.10V283.91H493.04V215.14H493.99V200.34H494.93V347.82H495.87V206.33H496.81V243.10H497.75V189.10H498.69V198.43H499.63V201.64H500.57V264.40H501.51V184.42H502.45V179.02H503.40V209.79H504.34V332.38H505.28V176.14H506.22V273.79H507.16V219.07H508.10V229.64H509.04V374.87H509.98V167.32H510.92V171.05H511.86V380.93H512.81V265.78H513.75V196.78H514.69V216.70H515.63V357.64H516.57V148.78H517.51V140.03H518.45V234.82H519.39V299.33H520.33V197.67H521.27V139.82H522.22V310.29H523.16V296.34H524.10V339.51H525.04V257.90H525.98V347.56H526.92V341.54H527.86V144.50H528.80V223.84H529.74V378.27H530.68V184.90H531.63V372.02H532.57V369.88H533.51V155.42H534.45V172.75H535.39V209.39H536.33V323.39H537.27V344.77H538.21V377.37H539.15V330.88H540.10V155.54H541.04V352.48H541.98V224.34H542.92V116.49H543.86V264.60H544.80V403.55Z" fill="#98D277"/>
<path d="M450.70 403.55V403.49H451.64V403.36H452.58V403.11H453.52V395.47H454.46V392.86H455.40V389.94H456.35V383.48H457.29V385.32H458.23V374.15H459.17V385.16H460.11V376.74H461.05V341.90H461.99V369.15H462.93V338.67H463.87V337.83H464.81V332.62H465.76V352.53H466.70V328.68H467.64V325.86H468.58V366.46H469.52V346.57H470.46V357.74H471.40V361.51H472.34V324.94H473.28V358.19H474.22V336.27H475.17V369.99H476.11V348.20H477.05V299.68H477.99V310.12H478.93V287.63H479.87V289.31H480.81V334.89H481.75V339.40H482.69V288.48H483.63V309.11H484.58V355.25H485.52V309.38H486.46V380.71H487.40V287.06H488.34V308.07H489.28V317.83H490.22V269.68H491.16V381.53H492.10V359.86H493.04V345.88H493.99V289.26H494.93V398.18H495.87V299.64H496.81V291.23H497.75V304.42H498.69V259.97H499.63V297.77H500.57V365.09H501.51V352.40H502.45V261.04H503.40V312.05H504.34V387.83H505.28V244.36H506.22V345.99H507.16V274.41H508.10V281.81H509.04V390.05H509.98V310.05H510.92V263.58H511.86V400.86H512.81V362.34H513.75V304.80H514.69V320.30H515.63V379.49H516.57V225.21H517.51V219.08H518.45V352.62H519.39V330.59H520.33V321.37H521.27V226.01H522.22V355.14H523.16V370.41H524.10V376.72H525.04V354.57H525.98V364.36H526.92V368.35H527.86V276.34H528.80V313.97H529.74V385.85H530.68V282.02H531.63V381.48H532.57V379.98H533.51V329.60H534.45V273.19H535.39V338.33H536.33V358.10H537.27V372.43H538.21V385.22H539.15V355.69H540.10V261.49H541.04V374.59H541.98V278.10H542.92V246.56H543.86V264.60H544.80V403.55Z" fill="#6AB84E"/>
<path d="M450.70 403.55V403.50H451.64V403.41H452.58V403.25H453.52V400.48H454.46V393.63H455.40V390.73H456.35V389.72H457.29V389.91H458.23V384.73H459.17V389.66H460.11V380.83H461.05V345.82H461.99V371.91H462.93V339.00H463.87V350.87H464.81V335.20H465.76V352.92H466.70V368.53H467.64V333.40H468.58V369.86H469.52V346.93H470.46V357.98H471.40V377.58H472.34V330.19H473.28V362.19H474.22V355.80H475.17V375.32H476.11V360.39H477.05V331.62H477.99V342.19H478.93V289.75H479.87V336.01H480.81V336.60H481.75V340.16H482.69V296.04H483.63V309.14H484.58V359.80H485.52V314.97H486.46V395.59H487.40V303.24H488.34V308.18H489.28V321.69H490.22V341.71H491.16V390.08H492.10V370.51H493.04V365.81H493.99V292.80H494.93V399.60H495.87V302.04H496.81V296.87H497.75V310.56H498.69V266.07H499.63V315.67H500.57V367.74H501.51V360.60H502.45V282.93H503.40V324.55H504.34V392.92H505.28V261.09H506.22V368.41H507.16V281.62H508.10V316.26H509.04V390.31H509.98V313.71H510.92V283.50H511.86V400.94H512.81V364.99H513.75V358.80H514.69V322.76H515.63V396.17H516.57V327.51H517.51V280.60H518.45V370.13H519.39V334.71H520.33V337.56H521.27V296.02H522.22V356.57H523.16V375.86H524.10V379.58H525.04V354.59H525.98V367.52H526.92V368.52H527.86V279.07H528.80V315.30H529.74V386.36H530.68V303.04H531.63V383.96H532.57V390.53H533.51V339.90H534.45V308.82H535.39V339.19H536.33V358.75H537.27V389.25H538.21V390.95H539.15V375.81H540.10V282.82H541.04V376.34H541.98V295.24H542.92V273.22H543.86V264.60H544.80V403.55Z" fill="#FDD59F"/>
<path d="M450.70 403.55V403.50H451.64V403.41H452.58V403.30H453.52V401.76H454.46V394.57H455.40V392.35H456.35V395.47H457.29V393.48H458.23V390.26H459.17V396.92H460.11V386.66H461.05V362.14H461.99V386.98H462.93V364.37H463.87V360.89H464.81V345.16H465.76V366.18H466.70V371.84H467.64V375.27H468.58V369.99H469.52V378.30H470.46V368.79H471.40V384.91H472.34V370.95H473.28V364.78H474.22V373.09H475.17V380.68H476.11V363.09H477.05V334.41H477.99V387.02H478.93V315.21H479.87V365.63H480.81V346.40H481.75V369.26H482.69V310.73H483.63V324.41H484.58V375.45H485.52V329.62H486.46V396.74H487.40V333.73H488.34V313.60H489.28V369.99H490.22V356.69H491.16V397.73H492.10V371.59H493.04V366.75H493.99V310.73H494.93V400.57H495.87V361.23H496.81V305.93H497.75V323.81H498.69V325.51H499.63V346.07H500.57V374.40H501.51V374.74H502.45V307.12H503.40V332.66H504.34V392.97H505.28V333.25H506.22V371.45H507.16V326.20H508.10V341.70H509.04V394.82H509.98V375.18H510.92V311.86H511.86V400.97H512.81V373.82H513.75V360.01H514.69V322.89H515.63V397.17H516.57V360.16H517.51V288.52H518.45V374.53H519.39V349.00H520.33V373.80H521.27V342.98H522.22V381.60H523.16V391.18H524.10V397.54H525.04V383.94H525.98V383.94H526.92V386.05H527.86V306.95H528.80V370.72H529.74V387.82H530.68V352.27H531.63V396.63H532.57V398.31H533.51V390.22H534.45V332.56H535.39V355.69H536.33V364.19H537.27V396.52H538.21V393.36H539.15V386.60H540.10V297.32H541.04V383.33H541.98V339.37H542.92V278.55H543.86V264.60H544.80V403.55Z" fill="#D4715F"/>
<path d="M450.70 403.55V403.52H451.64V403.49H452.58V403.38H453.52V402.18H454.46V399.78H455.40V397.60H456.35V395.68H457.29V397.69H458.23V391.97H459.17V397.29H460.11V392.86H461.05V365.26H461.99V393.80H462.93V372.87H463.87V368.88H464.81V376.40H465.76V373.00H466.70V379.78H467.64V393.20H468.58V374.12H469.52V383.03H470.46V373.06H471.40V385.08H472.34V372.98H473.28V368.23H474.22V388.31H475.17V382.25H476.11V391.25H477.05V334.78H477.99V392.14H478.93V352.90H479.87V381.36H480.81V366.17H481.75V377.86H482.69V363.09H483.63V366.82H484.58V393.69H485.52V336.04H486.46V396.79H487.40V334.21H488.34V378.26H489.28V375.08H490.22V373.13H491.16V398.86H492.10V377.30H493.04V375.27H493.99V316.95H494.93V401.56H495.87V393.94H496.81V384.33H497.75V324.77H498.69V328.23H499.63V379.02H500.57V384.49H501.51V379.55H502.45V322.06H503.40V337.47H504.34V392.99H505.28V359.90H506.22V375.34H507.16V326.29H508.10V391.84H509.04V397.93H509.98V379.28H510.92V323.31H511.86V402.30H512.81V375.02H513.75V360.66H514.69V343.43H515.63V401.24H516.57V361.97H517.51V368.40H518.45V377.75H519.39V381.64H520.33V384.26H521.27V358.16H522.22V395.92H523.16V394.43H524.10V399.66H525.04V387.46H525.98V388.97H526.92V397.12H527.86V381.44H528.80V381.79H529.74V392.87H530.68V364.32H531.63V397.01H532.57V401.16H533.51V393.38H534.45V379.41H535.39V363.95H536.33V378.39H537.27V399.27H538.21V393.94H539.15V392.81H540.10V316.77H541.04V397.61H541.98V371.86H542.92V359.70H543.86V264.60H544.80V403.55Z" fill="#CB3426"/>
<path d="M450.70 403.55V403.52H451.64V403.49H452.58V403.39H453.52V402.20H454.46V400.15H455.40V397.72H456.35V396.00H457.29V398.01H458.23V394.48H459.17V398.62H460.11V393.64H461.05V395.14H461.99V394.04H462.93V375.81H463.87V372.68H464.81V376.45H465.76V373.08H466.70V380.27H467.64V393.97H468.58V374.83H469.52V383.67H470.46V373.56H471.40V385.30H472.34V376.60H473.28V368.84H474.22V390.95H475.17V384.30H476.11V391.65H477.05V367.13H477.99V393.04H478.93V355.13H479.87V382.66H480.81V367.67H481.75V383.22H482.69V364.05H483.63V379.48H484.58V394.45H485.52V336.93H486.46V397.09H487.40V334.22H488.34V383.31H489.28V375.25H490.22V376.06H491.16V399.23H492.10V385.39H493.04V376.53H493.99V318.05H494.93V401.86H495.87V394.43H496.81V387.40H497.75V328.49H498.69V329.86H499.63V380.41H500.57V385.12H501.51V381.62H502.45V323.26H503.40V341.83H504.34V393.32H505.28V361.58H506.22V376.31H507.16V331.03H508.10V392.35H509.04V399.12H509.98V386.43H510.92V327.71H511.86V402.40H512.81V375.20H513.75V362.95H514.69V346.26H515.63V401.26H516.57V362.92H517.51V371.62H518.45V382.70H519.39V382.26H520.33V385.32H521.27V358.44H522.22V396.16H523.16V395.47H524.10V400.46H525.04V388.02H525.98V389.23H526.92V398.15H527.86V385.85H528.80V382.00H529.74V395.55H530.68V364.79H531.63V397.02H532.57V402.11H533.51V395.81H534.45V381.34H535.39V367.87H536.33V380.88H537.27V399.48H538.21V394.04H539.15V395.34H540.10V318.00H541.04V397.76H541.98V373.84H542.92V373.09H543.86V264.60H544.80V403.55Z" fill="#F38D5C"/>
<path d="M450.70 403.55V403.53H451.64V403.53H452.58V403.43H453.52V403.44H454.46V402.43H455.40V399.12H456.35V401.72H457.29V398.24H458.23V398.25H459.17V401.33H460.11V395.97H461.05V395.88H461.99V396.91H462.93V376.69H463.87V378.09H464.81V376.52H465.76V379.95H466.70V395.28H467.64V396.29H468.58V378.28H469.52V392.05H470.46V375.63H471.40V397.03H472.34V394.31H473.28V388.64H474.22V392.46H475.17V385.15H476.11V397.12H477.05V393.08H477.99V394.53H478.93V373.64H479.87V390.36H480.81V399.40H481.75V391.38H482.69V369.81H483.63V392.09H484.58V399.46H485.52V388.16H486.46V399.18H487.40V344.07H488.34V397.32H489.28V384.36H490.22V377.07H491.16V399.44H492.10V389.06H493.04V390.39H493.99V355.49H494.93V402.10H495.87V398.42H496.81V391.45H497.75V373.64H498.69V332.28H499.63V385.40H500.57V394.50H501.51V383.55H502.45V382.63H503.40V351.66H504.34V394.13H505.28V368.59H506.22V377.67H507.16V398.50H508.10V394.09H509.04V400.18H509.98V398.15H510.92V372.69H511.86V402.65H512.81V380.81H513.75V378.60H514.69V351.27H515.63V402.45H516.57V370.52H517.51V379.08H518.45V384.44H519.39V399.31H520.33V389.83H521.27V367.96H522.22V399.30H523.16V396.67H524.10V401.50H525.04V389.49H525.98V397.15H526.92V398.58H527.86V388.98H528.80V390.28H529.74V397.60H530.68V396.21H531.63V401.34H532.57V402.65H533.51V400.33H534.45V387.64H535.39V374.76H536.33V394.70H537.27V400.18H538.21V394.57H539.15V398.94H540.10V353.18H541.04V400.48H541.98V377.90H542.92V374.84H543.86V264.60H544.80V403.55Z" fill="#FF8B1A"/>
<path d="M450.70 403.55V403.54H451.64V403.53H452.58V403.49H453.52V403.48H454.46V402.79H455.40V399.81H456.35V402.19H457.29V399.34H458.23V399.40H459.17V401.78H460.11V397.08H461.05V399.70H461.99V397.22H462.93V379.02H463.87V395.91H464.81V379.01H465.76V396.19H466.70V399.00H467.64V396.50H468.58V400.06H469.52V397.45H470.46V393.55H471.40V403.09H472.34V394.53H473.28V395.11H474.22V401.34H475.17V387.06H476.11V398.08H477.05V396.89H477.99V400.76H478.93V386.25H479.87V399.78H480.81V400.69H481.75V400.51H482.69V401.16H483.63V398.50H484.58V401.44H485.52V392.34H486.46V401.98H487.40V391.97H488.34V399.34H489.28V388.14H490.22V387.34H491.16V400.54H492.10V390.94H493.04V391.87H493.99V366.37H494.93V402.34H495.87V398.81H496.81V398.36H497.75V389.73H498.69V344.24H499.63V390.68H500.57V395.93H501.51V401.21H502.45V390.33H503.40V375.74H504.34V399.93H505.28V387.75H506.22V379.14H507.16V402.10H508.10V394.57H509.04V400.54H509.98V399.26H510.92V373.17H511.86V402.88H512.81V400.23H513.75V387.10H514.69V389.74H515.63V402.55H516.57V395.36H517.51V390.31H518.45V388.92H519.39V400.05H520.33V397.73H521.27V392.28H522.22V400.53H523.16V396.90H524.10V402.83H525.04V396.80H525.98V398.77H526.92V400.28H527.86V392.10H528.80V397.48H529.74V397.73H530.68V399.70H531.63V402.20H532.57V402.72H533.51V401.48H534.45V392.94H535.39V383.62H536.33V395.35H537.27V401.23H538.21V395.60H539.15V401.57H540.10V374.38H541.04V402.08H541.98V397.03H542.92V389.03H543.86V264.60H544.80V403.55Z" fill="#CBA9CC"/>
<path d="M450.70 403.55V403.54H451.64V403.53H452.58V403.55H453.52V403.50H454.46V403.02H455.40V401.72H456.35V403.08H457.29V403.42H458.23V400.17H459.17V402.07H460.11V401.21H461.05V402.58H461.99V397.69H462.93V379.04H463.87V396.26H464.81V400.82H465.76V400.54H466.70V399.83H467.64V403.48H468.58V400.84H469.52V402.79H470.46V401.31H471.40V403.14H472.34V401.53H473.28V397.33H474.22V401.41H475.17V402.92H476.11V400.37H477.05V399.28H477.99V401.33H478.93V392.68H479.87V401.67H480.81V401.72H481.75V402.65H482.69V402.06H483.63V398.63H484.58V402.34H485.52V397.20H486.46V402.01H487.40V399.22H488.34V399.78H489.28V392.71H490.22V397.66H491.16V401.19H492.10V394.45H493.04V392.62H493.99V377.08H494.93V402.38H495.87V398.83H496.81V400.66H497.75V399.88H498.69V383.73H499.63V401.99H500.57V403.11H501.51V402.32H502.45V392.86H503.40V392.69H504.34V401.90H505.28V399.24H506.22V381.02H507.16V403.09H508.10V396.46H509.04V403.02H509.98V401.50H510.92V398.75H511.86V403.32H512.81V400.48H513.75V387.56H514.69V392.99H515.63V403.38H516.57V402.72H517.51V398.13H518.45V402.68H519.39V400.07H520.33V398.41H521.27V401.72H522.22V401.23H523.16V398.09H524.10V403.31H525.04V401.68H525.98V403.28H526.92V401.43H527.86V402.90H528.80V399.35H529.74V398.19H530.68V403.29H531.63V402.73H532.57V403.27H533.51V402.37H534.45V399.80H535.39V394.34H536.33V402.47H537.27V403.02H538.21V403.03H539.15V402.35H540.10V386.22H541.04V402.42H541.98V402.81H542.92V403.54H543.86V264.60H544.80V403.55Z" fill="#6A3F9A"/>
<rect x="450.70" y="24.30" width="94.10" height="383.00" fill="none" stroke="#333333" stroke-width="1"/>
<line x1="49.2" x2="52.40" y1="403.55" y2="403.55" stroke="#333333" stroke-width="1.07"/>
<text x="47.0" y="408.85" text-anchor="end" class="tk">0</text>
<line x1="49.2" x2="52.40" y1="309.66" y2="309.66" stroke="#333333" stroke-width="1.07"/>
<text x="47.0" y="314.96" text-anchor="end" class="tk">25</text>
<line x1="49.2" x2="52.40" y1="215.78" y2="215.78" stroke="#333333" stroke-width="1.07"/>
<text x="47.0" y="221.08" text-anchor="end" class="tk">50</text>
<line x1="49.2" x2="52.40" y1="121.89" y2="121.89" stroke="#333333" stroke-width="1.07"/>
<text x="47.0" y="127.19" text-anchor="end" class="tk">75</text>
<line x1="49.2" x2="52.40" y1="28.00" y2="28.00" stroke="#333333" stroke-width="1.07"/>
<text x="47.0" y="33.30" text-anchor="end" class="tk">100</text>
<text transform="translate(15.0,216.6) rotate(-90)" text-anchor="middle" class="ax">Relative Abundance (%)</text>
<text x="561.3" y="125.9" class="lt">Phylum</text>
<rect x="561.3" y="135.80" width="15.5" height="15.3" fill="#A6CEE3"/>
<text x="585.0" y="148.30" class="lg">Proteobacteria</text>
<rect x="561.3" y="152.50" width="15.5" height="15.3" fill="#2D7FB3"/>
<text x="585.0" y="165.00" class="lg">Firmicutes</text>
<rect x="561.3" y="169.20" width="15.5" height="15.3" fill="#98D277"/>
<text x="585.0" y="181.70" class="lg">Actinobacteria</text>
<rect x="561.3" y="185.90" width="15.5" height="15.3" fill="#6AB84E"/>
<text x="585.0" y="198.40" class="lg">Chloroflexi</text>
<rect x="561.3" y="202.60" width="15.5" height="15.3" fill="#FDD59F"/>
<text x="585.0" y="215.10" class="lg">Planctomycetes</text>
<rect x="561.3" y="219.30" width="15.5" height="15.3" fill="#D4715F"/>
<text x="585.0" y="231.80" class="lg">Bacteroidetes</text>
<rect x="561.3" y="236.00" width="15.5" height="15.3" fill="#CB3426"/>
<text x="585.0" y="248.50" class="lg">Cyanobacteria</text>
<rect x="561.3" y="252.70" width="15.5" height="15.3" fill="#F38D5C"/>
<text x="585.0" y="265.20" class="lg">Acidobacteria</text>
<rect x="561.3" y="269.40" width="15.5" height="15.3" fill="#FF8B1A"/>
<text x="585.0" y="281.90" class="lg">Patescibacteria</text>
<rect x="561.3" y="286.10" width="15.5" height="15.3" fill="#CBA9CC"/>
<text x="585.0" y="298.60" class="lg">Verrucomicrobia</text>
<rect x="561.3" y="302.80" width="15.5" height="15.3" fill="#6A3F9A"/>
<text x="585.0" y="315.30" class="lg">Other</text>
</svg></body></html>
